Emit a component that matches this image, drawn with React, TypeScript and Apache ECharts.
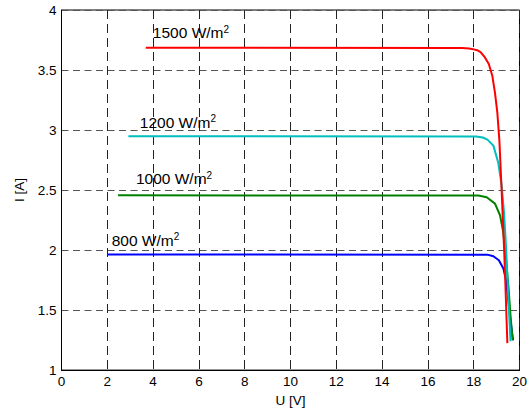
import React, { useEffect, useRef } from "react";
import * as echarts from "echarts";

// Axis ticks
const xTicks = [0, 2, 4, 6, 8, 10, 12, 14, 16, 18, 20];
const yTicks = [1, 1.5, 2, 2.5, 3, 3.5, 4];

// Irradiance levels (W/m^2)
const irradiances = [1500, 1200, 1000, 800];

// I-U curves: voltage U [V] and current I [A]
const u1500 = [3.68, 17.5, 17.8, 18.0, 18.15, 18.3, 18.49, 18.66, 18.81, 18.93, 19.03, 19.12, 19.22, 19.33, 19.38, 19.47];
const i1500 = [3.685, 3.684, 3.68, 3.672, 3.665, 3.65, 3.605, 3.55, 3.455, 3.31, 3.15, 2.92, 2.5, 2.0, 1.74, 1.225];

const u1200 = [2.92, 18.1, 18.4, 18.6, 18.86, 19.07, 19.22, 19.32, 19.41, 19.48, 19.55, 19.61];
const i1200 = [2.948, 2.946, 2.938, 2.92, 2.87, 2.73, 2.54, 2.32, 2.04, 1.74, 1.46, 1.24];

const u1000 = [2.47, 18.2, 18.57, 18.93, 19.15, 19.29, 19.41, 19.52, 19.61, 19.7];
const i1000 = [2.456, 2.454, 2.44, 2.387, 2.29, 2.15, 1.93, 1.69, 1.45, 1.25];

const u800 = [2.0, 18.6, 18.86, 19.1, 19.3, 19.41, 19.5, 19.6, 19.72];
const i800 = [1.964, 1.962, 1.948, 1.915, 1.845, 1.75, 1.6, 1.42, 1.248];

// Label anchor points (U, I) for each curve's annotation
const labelU = [3.99, 3.42, 3.25, 2.19];
const labelI = [3.81, 3.064, 2.594, 2.083];

const colors = ["#ff0000", "#00bfbf", "#008000", "#0000ff"];

const FONT = "'Liberation Sans', Arial, Helvetica, sans-serif";

export default function App() {
  const ref = useRef<HTMLDivElement>(null);

  useEffect(() => {
    if (!ref.current) return;
    const chart = echarts.init(ref.current, undefined, { renderer: "svg" });
    const us = [u1500, u1200, u1000, u800];
    const is = [i1500, i1200, i1000, i800];

    const series = irradiances.map((g, k) => ({
      type: "line",
      name: `${g} W/m2`,
      data: us[k].map((u, j) => [u, is[k][j]]),
      showSymbol: false,
      symbol: "none",
      smooth: false,
      lineStyle: { color: colors[k], width: 2 },
      itemStyle: { color: colors[k] },
      z: 3 + (3 - k),
      markPoint: {
        symbol: "circle",
        symbolSize: 0,
        silent: true,
        data: [
          {
            coord: [labelU[k], labelI[k]],
            label: {
              show: true,
              position: "right",
              distance: 0,
              formatter: `{a|${g} W/m}{s|2}`,
              rich: {
                a: { fontFamily: FONT, fontSize: 15.5, color: "#000", lineHeight: 17 },
                s: { fontFamily: FONT, fontSize: 10, color: "#000", lineHeight: 10, verticalAlign: "top" },
              },
            },
          },
        ],
      },
    }));

    chart.setOption({
      animation: false,
      backgroundColor: "#ffffff",
      textStyle: { fontFamily: FONT },
      grid: {
        left: 61.5,
        right: 10,
        top: 10,
        bottom: 40,
        show: true,
        borderColor: "#000",
        borderWidth: 1,
        backgroundColor: "transparent",
      },
      xAxis: {
        type: "value",
        min: xTicks[0],
        max: xTicks[xTicks.length - 1],
        interval: xTicks[1] - xTicks[0],
        name: "U [V]",
        nameLocation: "middle",
        nameGap: 22,
        nameTextStyle: { fontFamily: FONT, fontSize: 13.5, color: "#000" },
        axisLine: { show: true, onZero: false, lineStyle: { color: "#000", width: 1 } },
        axisTick: { show: false },
        axisLabel: { fontFamily: FONT, fontSize: 13.5, color: "#000", margin: 4 },
        splitLine: { show: true, lineStyle: { color: "#222", width: 1, type: [9, 5] } },
      },
      yAxis: {
        type: "value",
        min: yTicks[0],
        max: yTicks[yTicks.length - 1],
        interval: yTicks[1] - yTicks[0],
        name: "I [A]",
        nameLocation: "middle",
        nameGap: 33,
        nameTextStyle: { fontFamily: FONT, fontSize: 13.5, color: "#000" },
        axisLine: { show: true, onZero: false, lineStyle: { color: "#000", width: 1 } },
        axisTick: { show: false },
        axisLabel: { fontFamily: FONT, fontSize: 13.5, color: "#000", margin: 5 },
        splitLine: { show: true, lineStyle: { color: "#555", width: 1, type: [7, 4.5] } },
      },
      series,
    });

    return () => {
      chart.dispose();
    };
  }, []);

  return (
    <div
      ref={ref}
      style={{ position: "fixed", left: 0, top: 0, width: 530, height: 412, background: "#fff" }}
    />
  );
}
